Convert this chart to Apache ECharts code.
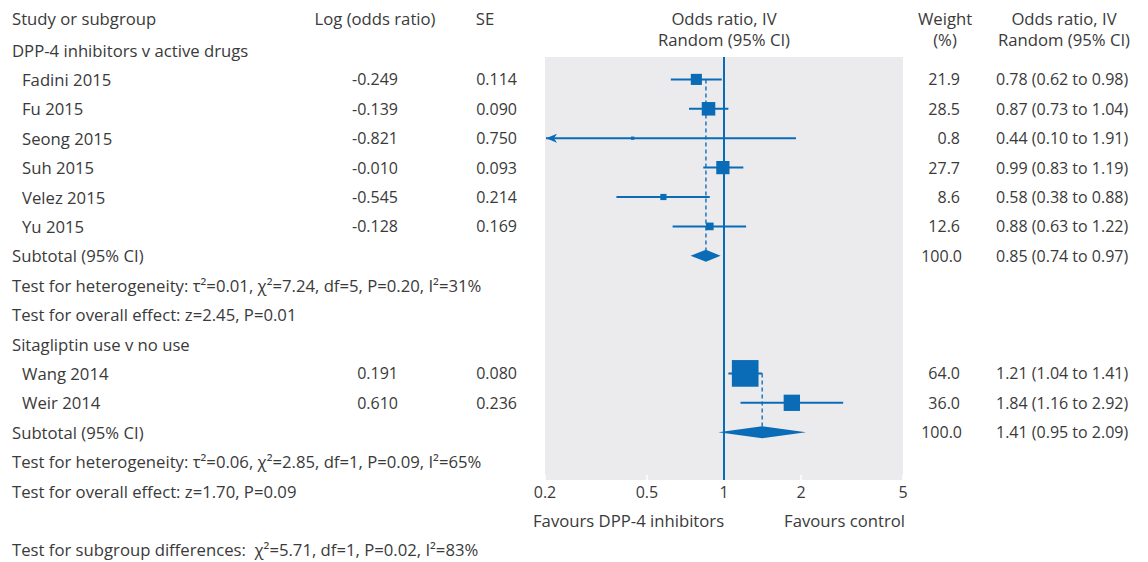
<!DOCTYPE html>
<html><head><meta charset="utf-8">
<script src="https://cdn.jsdelivr.net/npm/echarts@6/dist/echarts.min.js"></script>
<style>html,body{margin:0;padding:0;background:#fff}#c{width:1148px;height:562px}</style>
</head><body><div id="c"></div>
<script>
// ---------- data ----------
const g1Title = 'DPP-4 inhibitors v active drugs';
const g1Studies = ['Fadini 2015', 'Fu 2015', 'Seong 2015', 'Suh 2015', 'Velez 2015', 'Yu 2015'];
const g1LogOR = ['-0.249', '-0.139', '-0.821', '-0.010', '-0.545', '-0.128'];
const g1SE = ['0.114', '0.090', '0.750', '0.093', '0.214', '0.169'];
const g1Weight = [21.9, 28.5, 0.8, 27.7, 8.6, 12.6];
const g1OR = [0.78, 0.87, 0.44, 0.99, 0.58, 0.88];
const g1Lo = [0.62, 0.73, 0.10, 0.83, 0.38, 0.63];
const g1Hi = [0.98, 1.04, 1.91, 1.19, 0.88, 1.22];
const g1Total = [0.85, 0.74, 0.97];
const g1Het = 'Test for heterogeneity: τ²=0.01, χ²=7.24, df=5, P=0.20, I²=31%';
const g1Overall = 'Test for overall effect: z=2.45, P=0.01';

const g2Title = 'Sitagliptin use v no use';
const g2Studies = ['Wang 2014', 'Weir 2014'];
const g2LogOR = ['0.191', '0.610'];
const g2SE = ['0.080', '0.236'];
const g2Weight = [64.0, 36.0];
const g2OR = [1.21, 1.84];
const g2Lo = [1.04, 1.16];
const g2Hi = [1.41, 2.92];
const g2Total = [1.41, 0.95, 2.09];
const g2Het = 'Test for heterogeneity: τ²=0.06, χ²=2.85, df=1, P=0.09, I²=65%';
const g2Overall = 'Test for overall effect: z=1.70, P=0.09';

const subgroupDiff = 'Test for subgroup differences:  χ²=5.71, df=1, P=0.02, I²=83%';
const subtotalLabel = 'Subtotal (95% CI)';
const totalWeight = '100.0';
const tickValues = [0.2, 0.5, 1, 2, 5];
const tickLabels = ['0.2', '0.5', '1', '2', '5'];
const favoursLeft = 'Favours DPP-4 inhibitors';
const favoursRight = 'Favours control';

// ---------- layout / style ----------
const BLUE = '#0a6cb7';
const TEXT = '#3a3a3a';
const GREY = '#ebebee';
const FONT = '"Open Sans", "Noto Sans", sans-serif';
const FS = 16;      // numbers
const FST = 16.7;   // words
const ROW0 = 50, ROWH = 29.4;
const GRID_L = 545, GRID_R = 903, GRID_T = 57, GRID_B = 480;
const rowY = k => ROW0 + ROWH * k;
const LMIN = Math.log10(tickValues[0]), LMAX = Math.log10(tickValues[tickValues.length - 1]);
const fmt2 = v => v.toFixed(2);
const orText = (o, l, h) => fmt2(o) + ' (' + fmt2(l) + ' to ' + fmt2(h) + ')';

// rows
const rows = {};
let r = 0;
rows.g1Title = r++;
rows.g1 = g1Studies.map(() => r++);
rows.g1Sub = r++; rows.g1Het = r++; rows.g1Overall = r++;
rows.g2Title = r++;
rows.g2 = g2Studies.map(() => r++);
rows.g2Sub = r++; rows.g2Het = r++; rows.g2Overall = r++;
rows.favours = r++; rows.diff = r++;

// ---------- text ----------
const texts = [];
function T(str, x, y, align, size) {
  texts.push({ type: 'text', x: x, y: y, silent: true,
    style: { text: str, fill: TEXT, fontSize: size || FST, fontFamily: FONT, align: align || 'left', verticalAlign: 'middle' } });
}
// headers
T('Study or subgroup', 12, 18);
T('Log (odds ratio)', 375, 18, 'center');
T('SE', 485, 18, 'center');
T('Odds ratio, IV', GRID_L + (GRID_R - GRID_L) / 2, 18, 'center');
T('Random (95% CI)', GRID_L + (GRID_R - GRID_L) / 2, 39, 'center');
T('Weight', 945, 18, 'center');
T('(%)', 945, 39, 'center');
T('Odds ratio, IV', 1064, 18, 'center');
T('Random (95% CI)', 1064, 39, 'center');

function groupText(title, studies, lor, se, wt, or, lo, hi, tot, het, ov, rt, rs, rsub, rhet, rov) {
  T(title, 12, rowY(rt));
  studies.forEach((s, i) => {
    const y = rowY(rs[i]);
    T(s, 22, y);
    T(lor[i], 398, y, 'right', FS);
    T(se[i], 517, y, 'right', FS);
    T(wt[i].toFixed(1), 960, y, 'right', FS);
    T(orText(or[i], lo[i], hi[i]), 996, y, 'left', FS);
  });
  T(subtotalLabel, 12, rowY(rsub));
  T(totalWeight, 962, rowY(rsub), 'right', FS);
  T(orText(tot[0], tot[1], tot[2]), 996, rowY(rsub), 'left', FS);
  T(het, 12, rowY(rhet));
  T(ov, 12, rowY(rov));
}
groupText(g1Title, g1Studies, g1LogOR, g1SE, g1Weight, g1OR, g1Lo, g1Hi, g1Total, g1Het, g1Overall,
  rows.g1Title, rows.g1, rows.g1Sub, rows.g1Het, rows.g1Overall);
groupText(g2Title, g2Studies, g2LogOR, g2SE, g2Weight, g2OR, g2Lo, g2Hi, g2Total, g2Het, g2Overall,
  rows.g2Title, rows.g2, rows.g2Sub, rows.g2Het, rows.g2Overall);
T(favoursLeft, 533, rowY(rows.favours));
T(favoursRight, 905, rowY(rows.favours), 'right');
T(subgroupDiff, 12, rowY(rows.diff));

// ---------- series data ----------
const studyData = [];
g1Studies.forEach((s, i) => studyData.push([Math.log10(g1OR[i]), Math.log10(g1Lo[i]), Math.log10(g1Hi[i]), rows.g1[i], g1Weight[i]]));
g2Studies.forEach((s, i) => studyData.push([Math.log10(g2OR[i]), Math.log10(g2Lo[i]), Math.log10(g2Hi[i]), rows.g2[i], g2Weight[i]]));
const diamondData = [
  [Math.log10(g1Total[0]), Math.log10(g1Total[1]), Math.log10(g1Total[2]), rows.g1Sub],
  [Math.log10(g2Total[0]), Math.log10(g2Total[1]), Math.log10(g2Total[2]), rows.g2Sub]
];
const dashData = [
  [Math.log10(g1Total[0]), rows.g1[0], rows.g1Sub],
  [Math.log10(g2Total[0]), rows.g2[0], rows.g2Sub]
];

function renderNull(params, api) {
  const cs = params.coordSys;
  const x = api.coord([api.value(0), 0])[0];
  return { type: 'line', shape: { x1: x, y1: cs.y, x2: x, y2: cs.y + cs.height },
    style: { stroke: BLUE, lineWidth: 2 } };
}
function renderDash(params, api) {
  const a = api.coord([api.value(0), api.value(1)]);
  const b = api.coord([api.value(0), api.value(2)]);
  return { type: 'line', shape: { x1: a[0], y1: a[1], x2: b[0], y2: b[1] },
    style: { stroke: BLUE, lineWidth: 1.6, lineDash: [4, 3], opacity: 0.85 } };
}
function renderStudy(params, api) {
  const cs = params.coordSys;
  const left = cs.x, right = cs.x + cs.width;
  const c = api.coord([api.value(0), api.value(3)]);
  let pl = api.coord([api.value(1), api.value(3)])[0];
  let ph = api.coord([api.value(2), api.value(3)])[0];
  const arrowL = pl < left, arrowR = ph > right;
  pl = Math.max(pl, left + 1); ph = Math.min(ph, right - 1);
  const s = 3 + 0.37 * api.value(4);
  const y = c[1];
  const ch = [
    { type: 'line', shape: { x1: pl, y1: y, x2: ph, y2: y }, style: { stroke: BLUE, lineWidth: 2 } },
    { type: 'rect', shape: { x: c[0] - s / 2, y: y - s / 2, width: s, height: s }, style: { fill: BLUE } }
  ];
  if (arrowL) ch.push({ type: 'polygon', shape: { points: [[pl, y], [pl + 11, y - 4.5], [pl + 8, y], [pl + 11, y + 4.5]] }, style: { fill: BLUE } });
  if (arrowR) ch.push({ type: 'polygon', shape: { points: [[ph, y], [ph - 11, y - 4.5], [ph - 8, y], [ph - 11, y + 4.5]] }, style: { fill: BLUE } });
  return { type: 'group', children: ch };
}
function renderDiamond(params, api) {
  const c = api.coord([api.value(0), api.value(3)]);
  const l = api.coord([api.value(1), api.value(3)])[0];
  const h = api.coord([api.value(2), api.value(3)])[0];
  const hh = 6;
  return { type: 'polygon', shape: { points: [[l, c[1]], [c[0], c[1] - hh], [h, c[1]], [c[0], c[1] + hh]] },
    style: { fill: BLUE } };
}

const chart = echarts.init(document.getElementById('c'), null, { renderer: 'svg' });
chart.setOption({
  animation: false,
  textStyle: { fontFamily: FONT },
  grid: { left: GRID_L, top: GRID_T, width: GRID_R - GRID_L, height: GRID_B - GRID_T,
    show: true, backgroundColor: GREY, borderWidth: 0 },
  xAxis: {
    type: 'value', min: LMIN, max: LMAX,
    splitLine: { show: false },
    axisLine: { show: false },
    axisTick: { show: true, inside: true, length: 5, customValues: tickValues.map(Math.log10),
      lineStyle: { color: '#ffffff', width: 1.5 } },
    axisLabel: { show: true, margin: 4, color: TEXT, fontSize: FS, fontFamily: FONT,
      customValues: tickValues.map(Math.log10),
      formatter: function (v) {
        let best = 0, d = Infinity;
        tickValues.forEach((t, i) => { const dd = Math.abs(Math.log10(t) - v); if (dd < d) { d = dd; best = i; } });
        return tickLabels[best];
      } }
  },
  yAxis: {
    type: 'value', inverse: true, show: false,
    min: (GRID_T - ROW0) / ROWH, max: (GRID_B - ROW0) / ROWH,
    splitLine: { show: false }
  },
  graphic: texts,
  series: [
    { type: 'custom', name: 'null', renderItem: renderNull, data: [[0, 1]], encode: { x: 0, y: 1 }, silent: true },
    { type: 'custom', name: 'pooled', renderItem: renderDash, data: dashData, encode: { x: 0, y: [1, 2] }, silent: true },
    { type: 'custom', name: 'studies', renderItem: renderStudy, data: studyData, encode: { x: [0, 1, 2], y: 3 }, silent: true, clip: false },
    { type: 'custom', name: 'subtotals', renderItem: renderDiamond, data: diamondData, encode: { x: [0, 1, 2], y: 3 }, silent: true }
  ]
});
</script>
</body></html>
